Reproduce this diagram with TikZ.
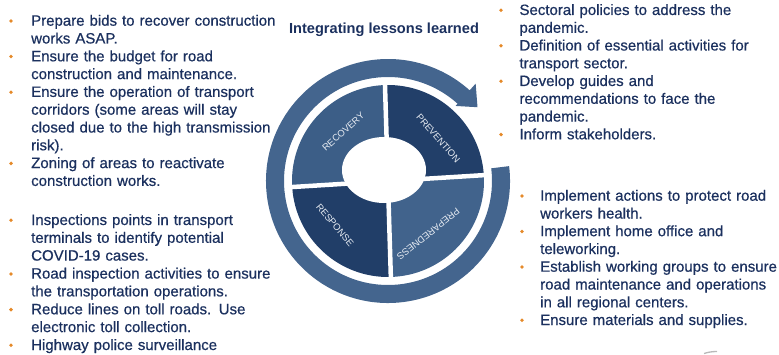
\documentclass[tikz,border=0pt]{standalone}
\usepackage{fontspec}
\setmainfont{Liberation Sans}
\newfontfamily\itemfont{Liberation Sans}[FakeBold=0.6]
\definecolor{navy}{HTML}{1B305E}
\definecolor{bulletorange}{HTML}{E58A2A}
\definecolor{ringcol}{HTML}{44658E}
\definecolor{reccol}{HTML}{3C5E87}
\definecolor{prevcol}{HTML}{223F69}
\definecolor{respcol}{HTML}{213E68}
\definecolor{prepcol}{HTML}{41638C}
\definecolor{labelcol}{HTML}{E6EBF2}
\begin{document}
\begin{tikzpicture}[x=1pt,y=1pt,
  item/.style={anchor=base west, inner sep=0pt, align=left,
    font=\itemfont\fontsize{15}{17.8}\selectfont, text=navy},
  itemL/.style={item, text width=246pt},
  itemRU/.style={item, text width=258pt},
  itemRL/.style={item, text width=238pt},
  dot/.style={circle, fill=bulletorange, inner sep=0pt, minimum size=3.8pt},
  seglabel/.style={font=\fontsize{9.4}{11}\selectfont, text=labelcol, inner sep=0pt},
  titlestyle/.style={font=\bfseries\fontsize{14.6}{17}\selectfont, text=navy, anchor=base, inner sep=0pt}]
\useasboundingbox (0,0) rectangle (779,354);
\coordinate (C) at (388,173);

% segments
\fill[prevcol] (C) -- ([shift={(3.5:96)}]C) arc[start angle=3.5, end angle=91.8, radius=96] -- cycle;
\fill[reccol] (C) -- ([shift={(91.8:96)}]C) arc[start angle=91.8, end angle=183.6, radius=96] -- cycle;
\fill[respcol] (C) -- ([shift={(183.6:96)}]C) arc[start angle=183.6, end angle=271.7, radius=96] -- cycle;
\fill[prepcol] (C) -- ([shift={(271.7:96)}]C) arc[start angle=271.7, end angle=363.5, radius=96] -- cycle;
\draw[white, line width=4.5pt] ([shift={(91.8:100)}]C) -- ([shift={(271.7:100)}]C);
\draw[white, line width=4.5pt] ([shift={(183.6:100)}]C) -- ([shift={(3.5:100)}]C);
\fill[white] (384,184) ellipse [x radius=42, y radius=33];

% outer arrow ring
\fill[ringcol] ([shift={(7:104)}]C) -- ([shift={(7:122)}]C)
  arc[start angle=7, end angle=-312, radius=122]
  -- ([shift={(48:131)}]C) -- ([shift={(39.5:116)}]C) -- ([shift={(48:101)}]C)
  -- ([shift={(48:104)}]C) arc[start angle=48, end angle=367, radius=104] -- cycle;

% segment labels
\node[seglabel, rotate=42] (lrec) at (343.3,222.3) {RECOVERY};
\node[seglabel, rotate=-49] (lprev) at (438.3,215.7) {PREVENTION};
\node[seglabel, rotate=-50] (lresp) at (335,129) {RESPONSE};
\node[seglabel, rotate=218] (lprep) at (428.3,120) {PREPAREDNESS};

% title
\node[titlestyle] (title) at (384,320.5) {Integrating lessons learned};

% left upper block
\node[dot] (d1) at (11,333.0) {};
\node[itemL] (t1) at (31,328.3) {Prepare bids to recover construction\\works ASAP.};
\node[dot] (d2) at (11,297.4) {};
\node[itemL] (t2) at (31,292.7) {Ensure the budget for road\\construction and maintenance.};
\node[dot] (d3) at (11,261.8) {};
\node[itemL] (t3) at (31,257.1) {Ensure the operation of transport\\corridors (some areas will stay\\closed due to the high transmission\\risk).};
\node[dot] (d4) at (11,190.6) {};
\node[itemL] (t4) at (31,185.9) {Zoning of areas to reactivate\\construction works.};

% left lower block
\node[dot] (d5) at (11,133.7) {};
\node[itemL] (t5) at (31,129.0) {Inspections points in transport\\terminals to identify potential\\COVID-19 cases.};
\node[dot] (d6) at (11,80.1) {};
\node[itemL] (t6) at (31,75.4) {Road inspection activities to ensure\\the transportation operations.};
\node[dot] (d7) at (11,44.4) {};
\node[itemL] (t7) at (31,39.7) {Reduce lines on toll roads. Use\\electronic toll collection.};
\node[dot] (d8) at (11,8.7) {};
\node[itemL] (t8) at (31,4.0) {Highway police surveillance};

% right upper block
\node[dot] (d9) at (501,343.7) {};
\node[itemRU] (t9) at (519.3,339.0) {Sectoral policies to address the\\pandemic.};
\node[dot] (d10) at (501,308.2) {};
\node[itemRU] (t10) at (519.3,303.5) {Definition of essential activities for\\transport sector.};
\node[dot] (d11) at (501,272.7) {};
\node[itemRU] (t11) at (519.3,268.0) {Develop guides and\\recommendations to face the\\pandemic.};
\node[dot] (d12) at (501,219.4) {};
\node[itemRU] (t12) at (519.3,214.7) {Inform stakeholders.};

% right lower block
\node[dot] (d13) at (522,158.0) {};
\node[itemRL] (t13) at (540,153.3) {Implement actions to protect road\\workers health.};
\node[dot] (d14) at (522,122.5) {};
\node[itemRL] (t14) at (540,117.8) {Implement home office and\\teleworking.};
\node[dot] (d15) at (522,87.0) {};
\node[itemRL] (t15) at (540,82.3) {Establish working groups to ensure\\road maintenance and operations\\in all regional centers.};
\node[dot] (d16) at (522,33.7) {};
\node[itemRL] (t16) at (540,29.0) {Ensure materials and supplies.};

% small fragment at bottom right
\draw[gray!55, line width=1.3pt] (704,0.5) to[bend left=8] (717,2.5);
\end{tikzpicture}
\end{document}
